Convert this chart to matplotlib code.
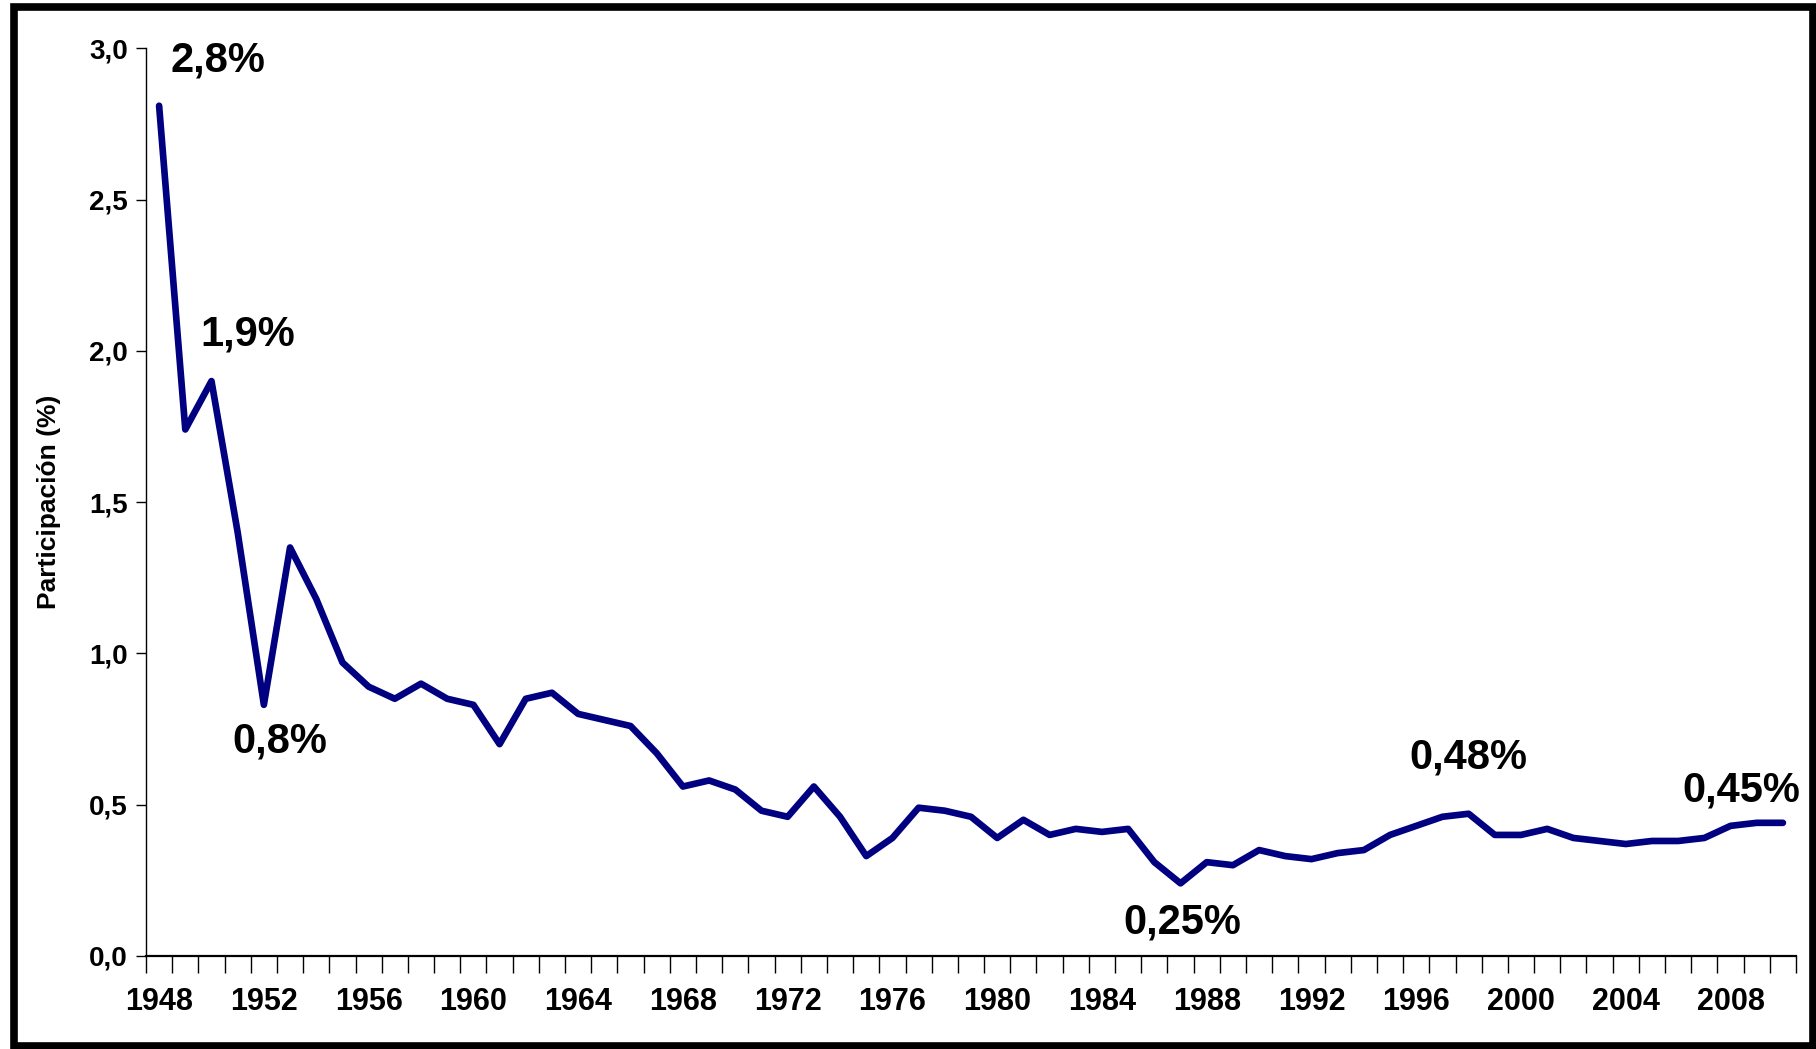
import numpy as np
import matplotlib.pyplot as plt
from matplotlib.patches import Rectangle
from matplotlib.ticker import FixedLocator, FuncFormatter

years = list(range(1948, 2011))
share = [2.81, 1.74, 1.90, 1.40, 0.83, 1.35, 1.18, 0.97, 0.89, 0.85, 0.90, 0.85,
         0.83, 0.70, 0.85, 0.87, 0.80, 0.78, 0.76, 0.67, 0.56, 0.58, 0.55, 0.48,
         0.46, 0.56, 0.46, 0.33, 0.39, 0.49, 0.48, 0.46, 0.39, 0.45, 0.40, 0.42,
         0.41, 0.42, 0.31, 0.24, 0.31, 0.30, 0.35, 0.33, 0.32, 0.34, 0.35, 0.40,
         0.43, 0.46, 0.47, 0.40, 0.40, 0.42, 0.39, 0.38, 0.37, 0.38, 0.38, 0.39,
         0.43, 0.44, 0.44]

# label text, x (year), y (value)
notes = [("2,8%", 1950.25, 2.96),
         ("1,9%", 1951.4, 2.055),
         ("0,8%", 1952.6, 0.71),
         ("0,25%", 1987.05, 0.109),
         ("0,48%", 1998.0, 0.657),
         ("0,45%", 2008.4, 0.548)]

FONT = ["Liberation Sans", "DejaVu Sans"]
C_LINE = "#000080"

fig = plt.figure(figsize=(18.16, 10.49), dpi=100)
ax = fig.add_axes([0.0804, 0.0887, 0.9086, 0.8653])

ax.plot(years, share, color=C_LINE, lw=4.8, solid_joinstyle="round",
        solid_capstyle="round", zorder=3)

ax.set_xlim(1947.5, 2010.5)
ax.set_ylim(0, 3.0)

for s in ["top", "right"]:
    ax.spines[s].set_visible(False)
ax.spines["left"].set_linewidth(1.0)
ax.spines["bottom"].set_linewidth(1.6)

ax.set_yticks(np.arange(0, 3.01, 0.5))
ax.yaxis.set_major_formatter(FuncFormatter(lambda v, p: f"{v:.1f}".replace(".", ",")))
ax.tick_params(axis="y", direction="out", length=7, width=1.0, pad=6)
for lab in ax.get_yticklabels():
    lab.set_family(FONT)
    lab.set_fontweight("bold")
    lab.set_fontsize(20)

ax.xaxis.set_major_locator(FixedLocator(years[::4]))
ax.xaxis.set_minor_locator(FixedLocator(np.arange(1947.5, 2011, 1.0)))
ax.xaxis.set_major_formatter(FuncFormatter(lambda v, p: f"{int(v)}"))
ax.tick_params(axis="x", which="major", length=0, pad=22)
ax.tick_params(axis="x", which="minor", direction="out", length=12, width=1.0)
for lab in ax.get_xticklabels():
    lab.set_family(FONT)
    lab.set_fontweight("bold")
    lab.set_fontsize(22)

ax.set_ylabel("Participación (%)", fontsize=19, fontweight="bold",
              family=FONT, labelpad=20)

for txt, x, y in notes:
    ax.text(x, y, txt, ha="center", va="center", fontsize=30, fontweight="bold",
            family=FONT, zorder=4)

# thick black frame round the figure
fig.patches.append(Rectangle((0.0075, 0.003), 0.991, 0.99, transform=fig.transFigure,
                             fill=False, edgecolor="black", lw=5.5))

fig.savefig("out.png", dpi=100)
